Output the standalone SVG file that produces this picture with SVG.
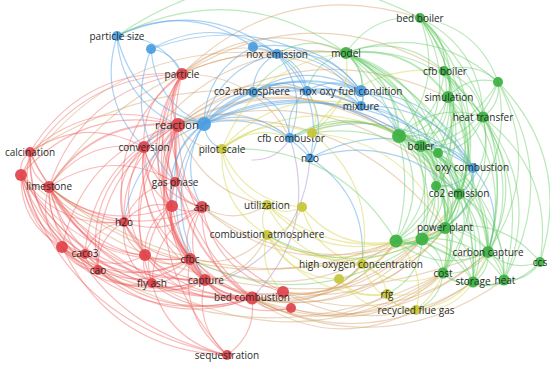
<svg xmlns="http://www.w3.org/2000/svg" width="550" height="366" viewBox="0 0 550 366">
<style>
.cx path{fill:none;stroke-width:1.2;vector-effect:non-scaling-stroke;stroke-linecap:round}
.er path{stroke:#ef5a5a;stroke-opacity:.42}
.eg path{stroke:#5cc95c;stroke-opacity:.42}
.eb path{stroke:#5aa5e6;stroke-opacity:.5}
.ey path{stroke:#d2d24a;stroke-opacity:.45}
.eo path{stroke:#cf955a;stroke-opacity:.4}
.ep path{stroke:#a68ac8;stroke-opacity:.45}
.cx path.t{stroke-width:2}
.n circle{fill-opacity:.93}
.r circle{fill:#e0444a}
.g circle{fill:#3cb043}
.b circle{fill:#4a9de0}
.y circle{fill:#c6c63a}
.n text{font-family:"Open Sans","DejaVu Sans",sans-serif;font-size:10px;fill:#2b2b2b;text-anchor:middle}
</style>
<g id="connectors" class="cx">
<g class="er">
<path class="t" d="M0 0Q.5-.3 1 0" transform="matrix(4 -51 51 4 178 125)"/>
<path d="M0 0Q.5-.3 1 0" transform="matrix(148 -27 27 148 30 152)"/>
<path d="M0 0Q.5-.3 1 0" transform="matrix(34 -22 22 34 144 147)"/>
<path d="M0 0Q.5-.3 1 0" transform="matrix(157 -50 50 157 21 175)"/>
<path class="t" d="M0 0Q.5-.3 1 0" transform="matrix(129 -62 62 129 49 187)"/>
<path d="M0 0Q.5-.3 1 0" transform="matrix(3 -57 57 3 175 182)"/>
<path d="M0 0Q.5-.3 1 0" transform="matrix(6 -81 81 6 172 206)"/>
<path d="M0 0Q.5-.3 1 0" transform="matrix(-24 -82 82 -24 202 207)"/>
<path d="M0 0Q.5-.3 1 0" transform="matrix(54 -97 97 54 124 222)"/>
<path d="M0 0Q.5-.3 1 0" transform="matrix(116 -122 122 116 62 247)"/>
<path d="M0 0Q.5-.3 1 0" transform="matrix(93 -129 129 93 85 254)"/>
<path d="M0 0Q.5-.3 1 0" transform="matrix(80 -145 145 80 98 270)"/>
<path d="M0 0Q.5-.3 1 0" transform="matrix(33 -130 130 33 145 255)"/>
<path class="t" d="M0 0Q.5-.3 1 0" transform="matrix(-12 -134 134 -12 190 259)"/>
<path d="M0 0Q.5-.3 1 0" transform="matrix(26 -158 158 26 152 283)"/>
<path d="M0 0Q.5-.3 1 0" transform="matrix(-27 -155 155 -27 205 280)"/>
<path class="t" d="M0 0Q.5-.3 1 0" transform="matrix(-74 -173 173 -74 252 298)"/>
<path d="M0 0Q.5-.3 1 0" transform="matrix(-105 -167 167 -105 283 292)"/>
<path d="M0 0Q.5-.3 1 0" transform="matrix(-49 -230 230 -49 227 355)"/>
<path d="M0 0Q.5-.3 1 0" transform="matrix(152 -78 78 152 30 152)"/>
<path d="M0 0Q.5-.3 1 0" transform="matrix(133 -113 113 133 49 187)"/>
<path d="M0 0Q.5-.3 1 0" transform="matrix(161 -101 101 161 21 175)"/>
<path d="M0 0Q.5-.3 1 0" transform="matrix(38 -73 73 38 144 147)"/>
<path d="M0 0Q.5-.3 1 0" transform="matrix(-20 -133 133 -20 202 207)"/>
<path d="M0 0Q.5-.3 1 0" transform="matrix(-8 -185 185 -8 190 259)"/>
<path d="M0 0Q.5-.3 1 0" transform="matrix(-23 -206 206 -23 205 280)"/>
<path d="M0 0Q.5-.3 1 0" transform="matrix(-70 -224 224 -70 252 298)"/>
<path d="M0 0Q.5-.3 1 0" transform="matrix(10 -132 132 10 172 206)"/>
<path d="M0 0Q.5-.3 1 0" transform="matrix(58 -148 148 58 124 222)"/>
<path d="M0 0Q.5-.3 1 0" transform="matrix(7 -108 108 7 175 182)"/>
<path d="M0 0Q.5-.3 1 0" transform="matrix(-19 -35 35 -19 49 187)"/>
<path d="M0 0Q.5-.3 1 0" transform="matrix(-28 -12 12 -28 49 187)"/>
<path d="M0 0Q.5-.3 1 0" transform="matrix(95 -40 40 95 49 187)"/>
<path d="M0 0Q.5-.3 1 0" transform="matrix(-75 -35 35 -75 124 222)"/>
<path d="M0 0Q.5-.3 1 0" transform="matrix(-36 -67 67 -36 85 254)"/>
<path d="M0 0Q.5-.3 1 0" transform="matrix(-49 -83 83 -49 98 270)"/>
<path d="M0 0Q.5-.3 1 0" transform="matrix(-13 -60 60 -13 62 247)"/>
<path d="M0 0Q.5-.3 1 0" transform="matrix(-141 -72 72 -141 190 259)"/>
<path d="M0 0Q.5-.3 1 0" transform="matrix(-156 -93 93 -156 205 280)"/>
<path class="t" d="M0 0Q.5-.3 1 0" transform="matrix(-203 -111 111 -203 252 298)"/>
<path d="M0 0Q.5-.3 1 0" transform="matrix(-96 -68 68 -96 145 255)"/>
<path d="M0 0Q.5-.3 1 0" transform="matrix(-103 -96 96 -103 152 283)"/>
<path d="M0 0Q.5-.3 1 0" transform="matrix(-153 -20 20 -153 202 207)"/>
<path d="M0 0Q.5-.3 1 0" transform="matrix(-123 -19 19 -123 172 206)"/>
<path d="M0 0Q.5-.3 1 0" transform="matrix(-178 -168 168 -178 227 355)"/>
<path d="M0 0Q.5-.3 1 0" transform="matrix(126 -5 5 126 49 187)"/>
<path d="M0 0Q.5-.3 1 0" transform="matrix(9 -23 23 9 21 175)"/>
<path d="M0 0Q.5-.3 1 0" transform="matrix(-55 -102 102 -55 85 254)"/>
<path d="M0 0Q.5-.3 1 0" transform="matrix(-32 -95 95 -32 62 247)"/>
<path d="M0 0Q.5-.3 1 0" transform="matrix(-68 -118 118 -68 98 270)"/>
<path d="M0 0Q.5-.3 1 0" transform="matrix(114 -5 5 114 30 152)"/>
<path d="M0 0Q.5-.3 1 0" transform="matrix(-94 -70 70 -94 124 222)"/>
<path d="M0 0Q.5-.3 1 0" transform="matrix(-222 -146 146 -222 252 298)"/>
<path d="M0 0Q.5-.3 1 0" transform="matrix(-41 -72 72 -41 62 247)"/>
<path d="M0 0Q.5-.3 1 0" transform="matrix(-64 -79 79 -64 85 254)"/>
<path d="M0 0Q.5-.3 1 0" transform="matrix(-77 -95 95 -77 98 270)"/>
<path d="M0 0Q.5-.3 1 0" transform="matrix(-184 -105 105 -184 205 280)"/>
<path d="M0 0Q.5-.3 1 0" transform="matrix(-231 -123 123 -231 252 298)"/>
<path d="M0 0Q.5-.3 1 0" transform="matrix(-169 -84 84 -169 190 259)"/>
<path d="M0 0Q.5-.3 1 0" transform="matrix(-103 -47 47 -103 124 222)"/>
<path d="M0 0Q.5-.3 1 0" transform="matrix(-131 -108 108 -131 152 283)"/>
<path d="M0 0Q.5-.3 1 0" transform="matrix(-206 -180 180 -206 227 355)"/>
<path d="M0 0Q.5-.3 1 0" transform="matrix(20 -75 75 20 124 222)"/>
<path d="M0 0Q.5-.3 1 0" transform="matrix(-58 -60 60 -58 202 207)"/>
<path d="M0 0Q.5-.3 1 0" transform="matrix(-28 -59 59 -28 172 206)"/>
<path d="M0 0Q.5-.3 1 0" transform="matrix(-46 -112 112 -46 190 259)"/>
<path d="M0 0Q.5-.3 1 0" transform="matrix(-61 -133 133 -61 205 280)"/>
<path d="M0 0Q.5-.3 1 0" transform="matrix(-108 -151 151 -108 252 298)"/>
<path d="M0 0Q.5-.3 1 0" transform="matrix(-1 -108 108 -1 145 255)"/>
<path d="M0 0Q.5-.3 1 0" transform="matrix(46 -123 123 46 98 270)"/>
<path d="M0 0Q.5-.3 1 0" transform="matrix(-31 -35 35 -31 175 182)"/>
<path d="M0 0Q.5-.3 1 0" transform="matrix(-27 -25 25 -27 202 207)"/>
<path d="M0 0Q.5-.3 1 0" transform="matrix(3 -24 24 3 172 206)"/>
<path d="M0 0Q.5-.3 1 0" transform="matrix(51 -40 40 51 124 222)"/>
<path d="M0 0Q.5-.3 1 0" transform="matrix(-15 -77 77 -15 190 259)"/>
<path d="M0 0Q.5-.3 1 0" transform="matrix(-30 -98 98 -30 205 280)"/>
<path d="M0 0Q.5-.3 1 0" transform="matrix(-30 -1 1 -30 202 207)"/>
<path d="M0 0Q.5-.3 1 0" transform="matrix(48 -16 16 48 124 222)"/>
<path d="M0 0Q.5-.3 1 0" transform="matrix(-18 -53 53 -18 190 259)"/>
<path d="M0 0Q.5-.3 1 0" transform="matrix(27 -49 49 27 145 255)"/>
<path d="M0 0Q.5-.3 1 0" transform="matrix(-33 -74 74 -33 205 280)"/>
<path d="M0 0Q.5-.3 1 0" transform="matrix(-80 -92 92 -80 252 298)"/>
<path d="M0 0Q.5-.3 1 0" transform="matrix(20 -77 77 20 152 283)"/>
<path d="M0 0Q.5-.3 1 0" transform="matrix(-78 15 -15 -78 202 207)"/>
<path d="M0 0Q.5-.3 1 0" transform="matrix(12 -52 52 12 190 259)"/>
<path d="M0 0Q.5-.3 1 0" transform="matrix(-3 -73 73 -3 205 280)"/>
<path d="M0 0Q.5-.3 1 0" transform="matrix(-50 -91 91 -50 252 298)"/>
<path d="M0 0Q.5-.3 1 0" transform="matrix(50 -76 76 50 152 283)"/>
<path d="M0 0Q.5-.3 1 0" transform="matrix(-81 -85 85 -81 283 292)"/>
<path d="M0 0Q.5-.3 1 0" transform="matrix(39 -32 32 39 85 254)"/>
<path d="M0 0Q.5-.3 1 0" transform="matrix(-21 -33 33 -21 145 255)"/>
<path d="M0 0Q.5-.3 1 0" transform="matrix(-66 -37 37 -66 190 259)"/>
<path d="M0 0Q.5-.3 1 0" transform="matrix(-81 -58 58 -81 205 280)"/>
<path d="M0 0Q.5-.3 1 0" transform="matrix(-128 -76 76 -128 252 298)"/>
<path d="M0 0Q.5-.3 1 0" transform="matrix(-28 -61 61 -28 152 283)"/>
<path d="M0 0Q.5-.3 1 0" transform="matrix(26 -48 48 26 98 270)"/>
<path d="M0 0Q.5-.3 1 0" transform="matrix(-23 -7 7 -23 85 254)"/>
<path d="M0 0Q.5-.3 1 0" transform="matrix(-36 -23 23 -36 98 270)"/>
<path d="M0 0Q.5-.3 1 0" transform="matrix(-190 -51 51 -190 252 298)"/>
<path d="M0 0Q.5-.3 1 0" transform="matrix(-143 -33 33 -143 205 280)"/>
<path d="M0 0Q.5-.3 1 0" transform="matrix(-90 -36 36 -90 152 283)"/>
<path d="M0 0Q.5-.3 1 0" transform="matrix(-128 -12 12 -128 190 259)"/>
<path d="M0 0Q.5-.3 1 0" transform="matrix(-165 -108 108 -165 227 355)"/>
<path d="M0 0Q.5-.3 1 0" transform="matrix(-13 -16 16 -13 98 270)"/>
<path d="M0 0Q.5-.3 1 0" transform="matrix(-105 -5 5 -105 190 259)"/>
<path d="M0 0Q.5-.3 1 0" transform="matrix(-120 -26 26 -120 205 280)"/>
<path d="M0 0Q.5-.3 1 0" transform="matrix(-167 -44 44 -167 252 298)"/>
<path d="M0 0Q.5-.3 1 0" transform="matrix(-60 -1 1 -60 145 255)"/>
<path d="M0 0Q.5-.3 1 0" transform="matrix(-54 -13 13 -54 152 283)"/>
<path d="M0 0Q.5-.3 1 0" transform="matrix(-154 -28 28 -154 252 298)"/>
<path d="M0 0Q.5-.3 1 0" transform="matrix(-107 -10 10 -107 205 280)"/>
<path d="M0 0Q.5-.3 1 0" transform="matrix(-92 11 -11 -92 190 259)"/>
<path d="M0 0Q.5-.3 1 0" transform="matrix(-45 -4 4 -45 190 259)"/>
<path d="M0 0Q.5-.3 1 0" transform="matrix(-60 -25 25 -60 205 280)"/>
<path d="M0 0Q.5-.3 1 0" transform="matrix(-107 -43 43 -107 252 298)"/>
<path d="M0 0Q.5-.3 1 0" transform="matrix(-7 -28 28 -7 152 283)"/>
<path class="t" d="M0 0Q.5-.3 1 0" transform="matrix(-15 -21 21 -15 205 280)"/>
<path class="t" d="M0 0Q.5-.3 1 0" transform="matrix(-62 -39 39 -62 252 298)"/>
<path d="M0 0Q.5-.3 1 0" transform="matrix(-93 -33 33 -93 283 292)"/>
<path d="M0 0Q.5-.3 1 0" transform="matrix(-37 -96 96 -37 227 355)"/>
<path d="M0 0Q.5-.3 1 0" transform="matrix(-38 24 -24 -38 190 259)"/>
<path class="t" d="M0 0Q.5-.3 1 0" transform="matrix(-47 -18 18 -47 252 298)"/>
<path d="M0 0Q.5-.3 1 0" transform="matrix(-22 -75 75 -22 227 355)"/>
<path d="M0 0Q.5-.3 1 0" transform="matrix(-78 -12 12 -78 283 292)"/>
<path d="M0 0Q.5-.3 1 0" transform="matrix(-86 -28 28 -86 291 308)"/>
<path d="M0 0Q.5-.3 1 0" transform="matrix(-53 3 -3 -53 205 280)"/>
<path d="M0 0Q.5-.3 1 0" transform="matrix(-31 6 -6 -31 283 292)"/>
<path d="M0 0Q.5-.3 1 0" transform="matrix(-39 -10 10 -39 291 308)"/>
<path d="M0 0Q.5-.3 1 0" transform="matrix(-25 57 -57 -25 252 298)"/>
<path d="M0 0Q.5-.3 1 0" transform="matrix(-75 -72 72 -75 227 355)"/>
<path d="M0 0Q.5-.3 1 0" transform="matrix(-100 -15 15 -100 252 298)"/>
</g>
<g class="eo">
<path d="M0 0Q.5-.3 1 0" transform="matrix(164 -21 21 164 182 74)"/>
<path d="M0 0Q.5-.3 1 0" transform="matrix(95 -20 20 95 182 74)"/>
<path d="M0 0Q.5-.3 1 0" transform="matrix(179 17 -17 179 182 74)"/>
<path d="M0 0Q.5-.3 1 0" transform="matrix(238 -56 56 238 182 74)"/>
<path d="M0 0Q.5-.3 1 0" transform="matrix(243 21 -21 243 178 125)"/>
<path d="M0 0Q.5-.3 1 0" transform="matrix(221 11 -11 221 178 125)"/>
<path d="M0 0Q.5-.3 1 0" transform="matrix(183 -19 19 183 178 125)"/>
<path d="M0 0Q.5-.3 1 0" transform="matrix(112 13 -13 112 178 125)"/>
<path d="M0 0Q.5-.3 1 0" transform="matrix(281 69 -69 281 178 125)"/>
<path d="M0 0Q.5-.3 1 0" transform="matrix(267 103 -103 267 178 125)"/>
<path d="M0 0Q.5-.3 1 0" transform="matrix(-193 70 -70 -193 445 228)"/>
<path d="M0 0Q.5-.3 1 0" transform="matrix(-144 57 -57 -144 396 241)"/>
<path d="M0 0Q.5-.3 1 0" transform="matrix(-170 59 -59 -170 422 239)"/>
<path d="M0 0Q.5-.3 1 0" transform="matrix(-236 46 -46 -236 488 252)"/>
<path d="M0 0Q.5-.3 1 0" transform="matrix(-221 16 -16 -221 473 282)"/>
<path d="M0 0Q.5-.3 1 0" transform="matrix(-191 25 -25 -191 443 273)"/>
<path d="M0 0Q.5-.3 1 0" transform="matrix(-252 18 -18 -252 504 280)"/>
<path d="M0 0Q.5-.3 1 0" transform="matrix(-207 104 -104 -207 459 194)"/>
<path d="M0 0Q.5-.3 1 0" transform="matrix(-162 64 -64 -162 445 228)"/>
<path d="M0 0Q.5-.3 1 0" transform="matrix(-113 51 -51 -113 396 241)"/>
<path d="M0 0Q.5-.3 1 0" transform="matrix(-205 40 -40 -205 488 252)"/>
<path d="M0 0Q.5-.3 1 0" transform="matrix(-190 10 -10 -190 473 282)"/>
<path d="M0 0Q.5-.3 1 0" transform="matrix(-79 28 -28 -79 362 264)"/>
<path d="M0 0Q.5-.3 1 0" transform="matrix(-152 35 -35 -152 443 273)"/>
<path d="M0 0Q.5-.3 1 0" transform="matrix(-206 18 -18 -206 396 241)"/>
<path d="M0 0Q.5-.3 1 0" transform="matrix(-194 -34 34 -194 396 241)"/>
<path d="M0 0Q.5-.3 1 0" transform="matrix(-243 -21 21 -243 445 228)"/>
<path d="M0 0Q.5-.3 1 0" transform="matrix(-217 41 -41 -217 422 239)"/>
<path d="M0 0Q.5-.3 1 0" transform="matrix(-396 -41 41 -396 445 228)"/>
<path d="M0 0Q.5-.3 1 0" transform="matrix(-347 -54 54 -347 396 241)"/>
<path d="M0 0Q.5-.3 1 0" transform="matrix(-467 -77 77 -467 488 252)"/>
<path d="M0 0Q.5-.3 1 0" transform="matrix(391 -6 6 391 30 152)"/>
<path d="M0 0Q.5-.3 1 0" transform="matrix(297 -134 134 297 49 187)"/>
<path d="M0 0Q.5-.3 1 0" transform="matrix(256 -121 121 256 21 175)"/>
<path d="M0 0Q.5-.3 1 0" transform="matrix(202 -94 94 202 144 147)"/>
<path d="M0 0Q.5-.3 1 0" transform="matrix(262 -3 3 262 182 74)"/>
<path d="M0 0Q.5-.3 1 0" transform="matrix(270 -28 28 270 178 125)"/>
<path d="M0 0Q.5-.3 1 0" transform="matrix(-381 -26 26 -381 443 273)"/>
<path d="M0 0Q.5-.3 1 0" transform="matrix(-291 10 -10 -291 443 273)"/>
<path d="M0 0Q.5-.3 1 0" transform="matrix(108 64 -64 108 182 74)"/>
<path d="M0 0Q.5-.3 1 0" transform="matrix(129 -34 34 129 178 125)"/>
<path d="M0 0Q.5-.3 1 0" transform="matrix(-89 -80 80 -89 267 205)"/>
<path d="M0 0Q.5-.3 1 0" transform="matrix(-62 45 -45 -62 267 235)"/>
<path d="M0 0Q.5-.3 1 0" transform="matrix(-44 -24 24 -44 222 149)"/>
<path d="M0 0Q.5-.3 1 0" transform="matrix(-65 2 -2 -65 267 205)"/>
<path d="M0 0Q.5-.3 1 0" transform="matrix(-77 24 -24 -77 267 235)"/>
<path d="M0 0Q.5-.3 1 0" transform="matrix(-110 34 -34 -110 362 264)"/>
<path d="M0 0Q.5-.3 1 0" transform="matrix(-135 4 -4 -135 387 294)"/>
<path d="M0 0Q.5-.3 1 0" transform="matrix(-164 -12 12 -164 416 310)"/>
</g>
<g class="ep">
<path d="M0 0Q.5-.3 1 0" transform="matrix(-38 160 -160 -38 290 138)"/>
<path d="M0 0Q.5-.3 1 0" transform="matrix(-85 121 -121 -85 310 158)"/>
<path d="M0 0Q.5-.3 1 0" transform="matrix(-38 22 -22 -38 290 138)"/>
</g>
<g class="eb">
<path d="M0 0Q.5-.3 1 0" transform="matrix(-87 -88 88 -87 204 124)"/>
<path d="M0 0Q.5-.3 1 0" transform="matrix(-61 -89 89 -61 178 125)"/>
<path d="M0 0Q.5-.3 1 0" transform="matrix(160 18 -18 160 117 36)"/>
<path d="M0 0Q.5-.3 1 0" transform="matrix(136 11 -11 136 117 36)"/>
<path d="M0 0Q.5-.3 1 0" transform="matrix(-27 -111 111 -27 144 147)"/>
<path d="M0 0Q.5-.3 1 0" transform="matrix(65 38 -38 65 117 36)"/>
<path d="M0 0Q.5-.3 1 0" transform="matrix(126 5 -5 126 151 49)"/>
<path d="M0 0Q.5-.3 1 0" transform="matrix(-53 -75 75 -53 204 124)"/>
<path d="M0 0Q.5-.3 1 0" transform="matrix(-24 -133 133 -24 175 182)"/>
<path d="M0 0Q.5-.3 1 0" transform="matrix(31 25 -25 31 151 49)"/>
<path d="M0 0Q.5-.3 1 0" transform="matrix(210 42 -42 210 151 49)"/>
<path d="M0 0Q.5-.3 1 0" transform="matrix(24 7 -7 24 253 47)"/>
<path d="M0 0Q.5-.3 1 0" transform="matrix(49 -77 77 49 204 124)"/>
<path d="M0 0Q.5-.3 1 0" transform="matrix(54 44 -44 54 253 47)"/>
<path d="M0 0Q.5-.3 1 0" transform="matrix(108 44 -44 108 253 47)"/>
<path d="M0 0Q.5-.3 1 0" transform="matrix(30 37 -37 30 277 54)"/>
<path d="M0 0Q.5-.3 1 0" transform="matrix(24 -38 38 24 253 92)"/>
<path d="M0 0Q.5-.3 1 0" transform="matrix(73 -70 70 73 204 124)"/>
<path d="M0 0Q.5-.3 1 0" transform="matrix(84 37 -37 84 277 54)"/>
<path d="M0 0Q.5-.3 1 0" transform="matrix(33 104 -104 33 277 54)"/>
<path d="M0 0Q.5-.3 1 0" transform="matrix(13 84 -84 13 277 54)"/>
<path d="M0 0Q.5-.3 1 0" transform="matrix(84 52 -52 84 277 54)"/>
<path d="M0 0Q.5-.3 1 0" transform="matrix(49 -32 32 49 204 124)"/>
<path d="M0 0Q.5-.3 1 0" transform="matrix(103 -33 33 103 204 124)"/>
<path class="t" d="M0 0Q.5-.3 1 0" transform="matrix(157 -33 33 157 204 124)"/>
<path class="t" d="M0 0Q.5-.3 1 0" transform="matrix(157 -18 18 157 204 124)"/>
<path d="M0 0Q.5-.3 1 0" transform="matrix(86 14 -14 86 204 124)"/>
<path d="M0 0Q.5-.3 1 0" transform="matrix(106 34 -34 106 204 124)"/>
<path d="M0 0Q.5-.3 1 0" transform="matrix(-18 -25 25 -18 222 149)"/>
<path d="M0 0Q.5-.3 1 0" transform="matrix(29 -58 58 29 175 182)"/>
<path d="M0 0Q.5-.3 1 0" transform="matrix(2 -83 83 2 202 207)"/>
<path d="M0 0Q.5-.3 1 0" transform="matrix(32 -82 82 32 172 206)"/>
<path d="M0 0Q.5-.3 1 0" transform="matrix(80 -98 98 80 124 222)"/>
<path d="M0 0Q.5-.3 1 0" transform="matrix(14 -135 135 14 190 259)"/>
<path d="M0 0Q.5-.3 1 0" transform="matrix(269 44 -44 269 204 124)"/>
<path d="M0 0Q.5-.3 1 0" transform="matrix(217 22 -22 217 204 124)"/>
<path d="M0 0Q.5-.3 1 0" transform="matrix(195 12 -12 195 204 124)"/>
<path d="M0 0Q.5-.3 1 0" transform="matrix(60 -23 23 60 144 147)"/>
<path d="M0 0Q.5-.3 1 0" transform="matrix(-1 -156 156 -1 205 280)"/>
<path d="M0 0Q.5-.3 1 0" transform="matrix(26 -1 1 26 178 125)"/>
<path d="M0 0Q.5-.3 1 0" transform="matrix(54 -1 1 54 253 92)"/>
<path d="M0 0Q.5-.3 1 0" transform="matrix(108 -1 1 108 253 92)"/>
<path d="M0 0Q.5-.3 1 0" transform="matrix(37 46 -46 37 253 92)"/>
<path d="M0 0Q.5-.3 1 0" transform="matrix(108 14 -14 108 253 92)"/>
<path d="M0 0Q.5-.3 1 0" transform="matrix(54 0 0 54 307 91)"/>
<path d="M0 0Q.5-.3 1 0" transform="matrix(54 15 -15 54 307 91)"/>
<path d="M0 0Q.5-.3 1 0" transform="matrix(3 67 -67 3 307 91)"/>
<path d="M0 0Q.5-.3 1 0" transform="matrix(17 -47 47 17 290 138)"/>
<path d="M0 0Q.5-.3 1 0" transform="matrix(166 77 -77 166 307 91)"/>
<path d="M0 0Q.5-.3 1 0" transform="matrix(112 62 -62 112 361 106)"/>
<path d="M0 0Q.5-.3 1 0" transform="matrix(38 30 -30 38 361 106)"/>
<path d="M0 0Q.5-.3 1 0" transform="matrix(60 40 -40 60 361 106)"/>
<path d="M0 0Q.5-.3 1 0" transform="matrix(98 88 -88 98 361 106)"/>
<path d="M0 0Q.5-.3 1 0" transform="matrix(112 77 -77 112 361 91)"/>
<path d="M0 0Q.5-.3 1 0" transform="matrix(0 15 -15 0 361 91)"/>
<path d="M0 0Q.5-.3 1 0" transform="matrix(38 45 -45 38 361 91)"/>
<path d="M0 0Q.5-.3 1 0" transform="matrix(20 20 -20 20 290 138)"/>
<path d="M0 0Q.5-.3 1 0" transform="matrix(183 30 -30 183 290 138)"/>
<path d="M0 0Q.5-.3 1 0" transform="matrix(163 10 -10 163 310 158)"/>
<path d="M0 0Q.5-.3 1 0" transform="matrix(149 36 -36 149 310 158)"/>
<path d="M0 0Q.5-.3 1 0" transform="matrix(52 106 -106 52 310 158)"/>
<path d="M0 0Q.5-.3 1 0" transform="matrix(-14 26 -26 -14 473 168)"/>
<path d="M0 0Q.5-.3 1 0" transform="matrix(-28 60 -60 -28 473 168)"/>
<path d="M0 0Q.5-.3 1 0" transform="matrix(52 22 -22 52 421 146)"/>
<path d="M0 0Q.5-.3 1 0" transform="matrix(-37 18 -18 -37 473 168)"/>
<path d="M0 0Q.5-.3 1 0" transform="matrix(15 84 -84 15 473 168)"/>
</g>
<g class="ey">
<path d="M0 0Q.5-.3 1 0" transform="matrix(90 -16 16 90 222 149)"/>
<path d="M0 0Q.5-.3 1 0" transform="matrix(-45 -56 56 -45 267 205)"/>
<path d="M0 0Q.5-.3 1 0" transform="matrix(-80 -58 58 -80 302 207)"/>
<path d="M0 0Q.5-.3 1 0" transform="matrix(-45 -86 86 -45 267 235)"/>
<path d="M0 0Q.5-.3 1 0" transform="matrix(139 -43 43 139 222 149)"/>
<path d="M0 0Q.5-.3 1 0" transform="matrix(68 -11 11 68 222 149)"/>
<path d="M0 0Q.5-.3 1 0" transform="matrix(177 -13 13 177 222 149)"/>
<path d="M0 0Q.5-.3 1 0" transform="matrix(124 -96 96 124 222 149)"/>
<path d="M0 0Q.5-.3 1 0" transform="matrix(50 131 -131 50 312 133)"/>
<path d="M0 0Q.5-.3 1 0" transform="matrix(109 13 -13 109 312 133)"/>
<path d="M0 0Q.5-.3 1 0" transform="matrix(87 3 -3 87 312 133)"/>
<path d="M0 0Q.5-.3 1 0" transform="matrix(5 42 -42 5 307 91)"/>
<path d="M0 0Q.5-.3 1 0" transform="matrix(133 95 -95 133 312 133)"/>
<path d="M0 0Q.5-.3 1 0" transform="matrix(-34 80 -80 -34 346 53)"/>
<path d="M0 0Q.5-.3 1 0" transform="matrix(132 -62 62 132 312 133)"/>
<path d="M0 0Q.5-.3 1 0" transform="matrix(0 -30 30 0 267 235)"/>
<path d="M0 0Q.5-.3 1 0" transform="matrix(-35 -2 2 -35 302 207)"/>
<path d="M0 0Q.5-.3 1 0" transform="matrix(-95 -59 59 -95 362 264)"/>
<path d="M0 0Q.5-.3 1 0" transform="matrix(-129 -36 36 -129 396 241)"/>
<path d="M0 0Q.5-.3 1 0" transform="matrix(-178 -23 23 -178 445 228)"/>
<path d="M0 0Q.5-.3 1 0" transform="matrix(-35 28 -28 -35 302 207)"/>
<path d="M0 0Q.5-.3 1 0" transform="matrix(-94 -34 34 -94 396 241)"/>
<path d="M0 0Q.5-.3 1 0" transform="matrix(-60 -57 57 -60 362 264)"/>
<path d="M0 0Q.5-.3 1 0" transform="matrix(-95 -29 29 -95 362 264)"/>
<path d="M0 0Q.5-.3 1 0" transform="matrix(-72 -44 44 -72 339 279)"/>
<path d="M0 0Q.5-.3 1 0" transform="matrix(-120 -59 59 -120 387 294)"/>
<path d="M0 0Q.5-.3 1 0" transform="matrix(-129 -6 6 -129 396 241)"/>
<path d="M0 0Q.5-.3 1 0" transform="matrix(-155 -4 4 -155 422 239)"/>
<path d="M0 0Q.5-.3 1 0" transform="matrix(-16 -57 57 -16 283 292)"/>
<path d="M0 0Q.5-.3 1 0" transform="matrix(25 30 -30 25 362 264)"/>
<path d="M0 0Q.5-.3 1 0" transform="matrix(-54 -46 46 -54 416 310)"/>
<path d="M0 0Q.5-.3 1 0" transform="matrix(-23 15 -15 -23 362 264)"/>
<path d="M0 0Q.5-.3 1 0" transform="matrix(-34 23 -23 -34 396 241)"/>
<path d="M0 0Q.5-.3 1 0" transform="matrix(-83 36 -36 -83 445 228)"/>
<path d="M0 0Q.5-.3 1 0" transform="matrix(-81 -9 9 -81 443 273)"/>
<path d="M0 0Q.5-.3 1 0" transform="matrix(-48 -15 15 -48 387 294)"/>
<path d="M0 0Q.5-.3 1 0" transform="matrix(-77 -31 31 -77 416 310)"/>
<path d="M0 0Q.5-.3 1 0" transform="matrix(-29 -16 16 -29 416 310)"/>
<path d="M0 0Q.5-.3 1 0" transform="matrix(-56 21 -21 -56 443 273)"/>
<path d="M0 0Q.5-.3 1 0" transform="matrix(-29 82 -82 -29 445 228)"/>
<path d="M0 0Q.5-.3 1 0" transform="matrix(-72 58 -58 -72 488 252)"/>
<path d="M0 0Q.5-.3 1 0" transform="matrix(-57 28 -28 -57 473 282)"/>
<path d="M0 0Q.5-.3 1 0" transform="matrix(20 69 -69 20 396 241)"/>
</g>
<g class="eg">
<path d="M0 0Q.5-.3 1 0" transform="matrix(74 -35 35 74 346 53)"/>
<path d="M0 0Q.5-.3 1 0" transform="matrix(24 53 -53 24 420 18)"/>
<path d="M0 0Q.5-.3 1 0" transform="matrix(28 79 -79 28 420 18)"/>
<path d="M0 0Q.5-.3 1 0" transform="matrix(78 64 -64 78 420 18)"/>
<path d="M0 0Q.5-.3 1 0" transform="matrix(63 99 -99 63 420 18)"/>
<path d="M0 0Q.5-.3 1 0" transform="matrix(-21 118 -118 -21 420 18)"/>
<path d="M0 0Q.5-.3 1 0" transform="matrix(1 128 -128 1 420 18)"/>
<path d="M0 0Q.5-.3 1 0" transform="matrix(18 135 -135 18 420 18)"/>
<path d="M0 0Q.5-.3 1 0" transform="matrix(16 168 -168 16 420 18)"/>
<path d="M0 0Q.5-.3 1 0" transform="matrix(39 176 -176 39 420 18)"/>
<path d="M0 0Q.5-.3 1 0" transform="matrix(25 210 -210 25 420 18)"/>
<path d="M0 0Q.5-.3 1 0" transform="matrix(68 234 -234 68 420 18)"/>
<path d="M0 0Q.5-.3 1 0" transform="matrix(98 18 -18 98 346 53)"/>
<path d="M0 0Q.5-.3 1 0" transform="matrix(152 29 -29 152 346 53)"/>
<path class="t" d="M0 0Q.5-.3 1 0" transform="matrix(102 44 -44 102 346 53)"/>
<path d="M0 0Q.5-.3 1 0" transform="matrix(137 64 -64 137 346 53)"/>
<path class="t" d="M0 0Q.5-.3 1 0" transform="matrix(53 83 -83 53 346 53)"/>
<path d="M0 0Q.5-.3 1 0" transform="matrix(75 93 -93 75 346 53)"/>
<path d="M0 0Q.5-.3 1 0" transform="matrix(92 100 -100 92 346 53)"/>
<path d="M0 0Q.5-.3 1 0" transform="matrix(90 133 -133 90 346 53)"/>
<path d="M0 0Q.5-.3 1 0" transform="matrix(113 141 -141 113 346 53)"/>
<path d="M0 0Q.5-.3 1 0" transform="matrix(99 175 -175 99 346 53)"/>
<path d="M0 0Q.5-.3 1 0" transform="matrix(50 188 -188 50 346 53)"/>
<path d="M0 0Q.5-.3 1 0" transform="matrix(76 186 -186 76 346 53)"/>
<path d="M0 0Q.5-.3 1 0" transform="matrix(69 -1 1 69 277 54)"/>
<path d="M0 0Q.5-.3 1 0" transform="matrix(39 -38 38 39 307 91)"/>
<path d="M0 0Q.5-.3 1 0" transform="matrix(15 38 -38 15 346 53)"/>
<path d="M0 0Q.5-.3 1 0" transform="matrix(15 53 -53 15 346 53)"/>
<path d="M0 0Q.5-.3 1 0" transform="matrix(93 -39 39 93 253 92)"/>
<path d="M0 0Q.5-.3 1 0" transform="matrix(142 199 -199 142 346 53)"/>
<path d="M0 0Q.5-.3 1 0" transform="matrix(127 229 -229 127 346 53)"/>
<path d="M0 0Q.5-.3 1 0" transform="matrix(229 17 -17 229 117 36)"/>
<path d="M0 0Q.5-.3 1 0" transform="matrix(303 -18 18 303 117 36)"/>
<path d="M0 0Q.5-.3 1 0" transform="matrix(4 26 -26 4 444 71)"/>
<path d="M0 0Q.5-.3 1 0" transform="matrix(54 11 -11 54 444 71)"/>
<path d="M0 0Q.5-.3 1 0" transform="matrix(39 46 -46 39 444 71)"/>
<path d="M0 0Q.5-.3 1 0" transform="matrix(-23 75 -75 -23 444 71)"/>
<path d="M0 0Q.5-.3 1 0" transform="matrix(-45 65 -65 -45 444 71)"/>
<path d="M0 0Q.5-.3 1 0" transform="matrix(-6 82 -82 -6 444 71)"/>
<path d="M0 0Q.5-.3 1 0" transform="matrix(15 123 -123 15 444 71)"/>
<path d="M0 0Q.5-.3 1 0" transform="matrix(1 157 -157 1 444 71)"/>
<path d="M0 0Q.5-.3 1 0" transform="matrix(44 181 -181 44 444 71)"/>
<path d="M0 0Q.5-.3 1 0" transform="matrix(35 20 -20 35 448 97)"/>
<path d="M0 0Q.5-.3 1 0" transform="matrix(50 -15 15 50 448 97)"/>
<path d="M0 0Q.5-.3 1 0" transform="matrix(-49 39 -39 -49 448 97)"/>
<path d="M0 0Q.5-.3 1 0" transform="matrix(-27 49 -49 -27 448 97)"/>
<path d="M0 0Q.5-.3 1 0" transform="matrix(-10 56 -56 -10 448 97)"/>
<path d="M0 0Q.5-.3 1 0" transform="matrix(-12 89 -89 -12 448 97)"/>
<path d="M0 0Q.5-.3 1 0" transform="matrix(11 97 -97 11 448 97)"/>
<path d="M0 0Q.5-.3 1 0" transform="matrix(-3 131 -131 -3 448 97)"/>
<path d="M0 0Q.5-.3 1 0" transform="matrix(40 155 -155 40 448 97)"/>
<path d="M0 0Q.5-.3 1 0" transform="matrix(-52 144 -144 -52 448 97)"/>
<path d="M0 0Q.5-.3 1 0" transform="matrix(-5 176 -176 -5 448 97)"/>
<path d="M0 0Q.5-.3 1 0" transform="matrix(-15 35 -35 -15 498 82)"/>
<path d="M0 0Q.5-.3 1 0" transform="matrix(-62 29 -29 -62 483 117)"/>
<path d="M0 0Q.5-.3 1 0" transform="matrix(-45 36 -36 -45 483 117)"/>
<path d="M0 0Q.5-.3 1 0" transform="matrix(84 -19 19 84 399 136)"/>
<path d="M0 0Q.5-.3 1 0" transform="matrix(-38 111 -111 -38 483 117)"/>
<path d="M0 0Q.5-.3 1 0" transform="matrix(5 135 -135 5 483 117)"/>
<path d="M0 0Q.5-.3 1 0" transform="matrix(21 163 -163 21 483 117)"/>
<path d="M0 0Q.5-.3 1 0" transform="matrix(-24 77 -77 -24 483 117)"/>
<path d="M0 0Q.5-.3 1 0" transform="matrix(-10 165 -165 -10 483 117)"/>
<path d="M0 0Q.5-.3 1 0" transform="matrix(-77 64 -64 -77 498 82)"/>
<path d="M0 0Q.5-.3 1 0" transform="matrix(-10 170 -170 -10 498 82)"/>
<path d="M0 0Q.5-.3 1 0" transform="matrix(6 198 -198 6 498 82)"/>
<path d="M0 0Q.5-.3 1 0" transform="matrix(-99 54 -54 -99 498 82)"/>
<path d="M0 0Q.5-.3 1 0" transform="matrix(-53 146 -146 -53 498 82)"/>
<path class="t" d="M0 0Q.5-.3 1 0" transform="matrix(22 10 -10 22 399 136)"/>
<path d="M0 0Q.5-.3 1 0" transform="matrix(39 17 -17 39 399 136)"/>
<path d="M0 0Q.5-.3 1 0" transform="matrix(37 50 -50 37 399 136)"/>
<path d="M0 0Q.5-.3 1 0" transform="matrix(60 58 -58 60 399 136)"/>
<path class="t" d="M0 0Q.5-.3 1 0" transform="matrix(46 92 -92 46 399 136)"/>
<path d="M0 0Q.5-.3 1 0" transform="matrix(-3 105 -105 -3 399 136)"/>
<path d="M0 0Q.5-.3 1 0" transform="matrix(23 103 -103 23 399 136)"/>
<path d="M0 0Q.5-.3 1 0" transform="matrix(44 137 -137 44 399 136)"/>
<path d="M0 0Q.5-.3 1 0" transform="matrix(74 146 -146 74 399 136)"/>
<path d="M0 0Q.5-.3 1 0" transform="matrix(89 116 -116 89 399 136)"/>
<path d="M0 0Q.5-.3 1 0" transform="matrix(17 7 -7 17 421 146)"/>
<path d="M0 0Q.5-.3 1 0" transform="matrix(15 40 -40 15 421 146)"/>
<path d="M0 0Q.5-.3 1 0" transform="matrix(38 48 -48 38 421 146)"/>
<path class="t" d="M0 0Q.5-.3 1 0" transform="matrix(24 82 -82 24 421 146)"/>
<path d="M0 0Q.5-.3 1 0" transform="matrix(-25 95 -95 -25 421 146)"/>
<path d="M0 0Q.5-.3 1 0" transform="matrix(1 93 -93 1 421 146)"/>
<path d="M0 0Q.5-.3 1 0" transform="matrix(22 127 -127 22 421 146)"/>
<path d="M0 0Q.5-.3 1 0" transform="matrix(67 106 -106 67 421 146)"/>
<path d="M0 0Q.5-.3 1 0" transform="matrix(52 136 -136 52 421 146)"/>
<path d="M0 0Q.5-.3 1 0" transform="matrix(83 134 -134 83 421 146)"/>
<path d="M0 0Q.5-.3 1 0" transform="matrix(21 41 -41 21 438 153)"/>
<path d="M0 0Q.5-.3 1 0" transform="matrix(7 75 -75 7 438 153)"/>
<path d="M0 0Q.5-.3 1 0" transform="matrix(-16 86 -86 -16 438 153)"/>
<path d="M0 0Q.5-.3 1 0" transform="matrix(50 99 -99 50 438 153)"/>
<path d="M0 0Q.5-.3 1 0" transform="matrix(23 8 -8 23 436 186)"/>
<path d="M0 0Q.5-.3 1 0" transform="matrix(9 42 -42 9 436 186)"/>
<path d="M0 0Q.5-.3 1 0" transform="matrix(-40 55 -55 -40 436 186)"/>
<path d="M0 0Q.5-.3 1 0" transform="matrix(-14 53 -53 -14 436 186)"/>
<path d="M0 0Q.5-.3 1 0" transform="matrix(7 87 -87 7 436 186)"/>
<path d="M0 0Q.5-.3 1 0" transform="matrix(-14 34 -34 -14 459 194)"/>
<path d="M0 0Q.5-.3 1 0" transform="matrix(29 58 -58 29 459 194)"/>
<path d="M0 0Q.5-.3 1 0" transform="matrix(-37 45 -45 -37 459 194)"/>
<path d="M0 0Q.5-.3 1 0" transform="matrix(14 88 -88 14 459 194)"/>
<path d="M0 0Q.5-.3 1 0" transform="matrix(-16 79 -79 -16 459 194)"/>
<path d="M0 0Q.5-.3 1 0" transform="matrix(45 86 -86 45 459 194)"/>
<path d="M0 0Q.5-.3 1 0" transform="matrix(-63 47 -47 -63 459 194)"/>
<path class="t" d="M0 0Q.5-.3 1 0" transform="matrix(-49 13 -13 -49 445 228)"/>
<path class="t" d="M0 0Q.5-.3 1 0" transform="matrix(-23 11 -11 -23 445 228)"/>
<path d="M0 0Q.5-.3 1 0" transform="matrix(43 24 -24 43 445 228)"/>
<path d="M0 0Q.5-.3 1 0" transform="matrix(-2 45 -45 -2 445 228)"/>
<path d="M0 0Q.5-.3 1 0" transform="matrix(28 54 -54 28 445 228)"/>
<path d="M0 0Q.5-.3 1 0" transform="matrix(59 52 -52 59 445 228)"/>
<path d="M0 0Q.5-.3 1 0" transform="matrix(95 34 -34 95 445 228)"/>
<path class="t" d="M0 0Q.5-.3 1 0" transform="matrix(-26 2 -2 -26 422 239)"/>
<path d="M0 0Q.5-.3 1 0" transform="matrix(47 32 -32 47 396 241)"/>
<path d="M0 0Q.5-.3 1 0" transform="matrix(77 41 -41 77 396 241)"/>
<path d="M0 0Q.5-.3 1 0" transform="matrix(-92 -11 11 -92 488 252)"/>
<path d="M0 0Q.5-.3 1 0" transform="matrix(21 34 -34 21 422 239)"/>
<path d="M0 0Q.5-.3 1 0" transform="matrix(51 43 -43 51 422 239)"/>
<path d="M0 0Q.5-.3 1 0" transform="matrix(-66 -13 13 -66 488 252)"/>
<path d="M0 0Q.5-.3 1 0" transform="matrix(82 41 -41 82 422 239)"/>
<path d="M0 0Q.5-.3 1 0" transform="matrix(-52 -10 10 -52 540 262)"/>
<path d="M0 0Q.5-.3 1 0" transform="matrix(-45 21 -21 -45 488 252)"/>
<path d="M0 0Q.5-.3 1 0" transform="matrix(-15 30 -30 -15 488 252)"/>
<path d="M0 0Q.5-.3 1 0" transform="matrix(16 28 -28 16 488 252)"/>
<path d="M0 0Q.5-.3 1 0" transform="matrix(-30 -9 9 -30 473 282)"/>
<path d="M0 0Q.5-.3 1 0" transform="matrix(-61 -7 7 -61 504 280)"/>
<path d="M0 0Q.5-.3 1 0" transform="matrix(-31 2 -2 -31 504 280)"/>
<path d="M0 0Q.5-.3 1 0" transform="matrix(-67 20 -20 -67 540 262)"/>
<path d="M0 0Q.5-.3 1 0" transform="matrix(-36 18 -18 -36 540 262)"/>
<path d="M0 0Q.5-.3 1 0" transform="matrix(109 -2 2 109 290 138)"/>
<path d="M0 0Q.5-.3 1 0" transform="matrix(131 8 -8 131 290 138)"/>
<path d="M0 0Q.5-.3 1 0" transform="matrix(-35 55 -55 -35 422 239)"/>
<path d="M0 0Q.5-.3 1 0" transform="matrix(-27 37 -37 -27 443 273)"/>
<path d="M0 0Q.5-.3 1 0" transform="matrix(-178 7 -7 -178 445 228)"/>
<path d="M0 0Q.5-.3 1 0" transform="matrix(174 92 -92 174 222 149)"/>
<path d="M0 0Q.5-.3 1 0" transform="matrix(-232 20 -20 -232 422 239)"/>
<path d="M0 0Q.5-.3 1 0" transform="matrix(147 61 -61 147 312 133)"/>
<path d="M0 0Q.5-.3 1 0" transform="matrix(42 180 -180 42 498 82)"/>
<path d="M0 0Q.5-.3 1 0" transform="matrix(57 145 -145 57 483 117)"/>
<path d="M0 0Q.5-.3 1 0" transform="matrix(60 209 -209 60 444 71)"/>
</g>
</g>
<g id="nodes">
<g id="n-particle" class="n r"><circle cx="182" cy="74" r="6"/><text x="182" y="77.5">particle</text></g>
<g id="n-calcination" class="n r"><circle cx="30" cy="152" r="5"/><text x="30" y="155.5">calcination</text></g>
<g id="n-conversion" class="n r"><circle cx="144" cy="147" r="6"/><text x="144" y="150.5">conversion</text></g>
<g id="n-red-1" class="n r"><circle cx="21" cy="175" r="6"/></g>
<g id="n-limestone" class="n r"><circle cx="49" cy="187" r="6"/><text x="49" y="190">limestone</text></g>
<g id="n-gas-phase" class="n r"><circle cx="175" cy="182" r="5"/><text x="175" y="185.5">gas phase</text></g>
<g id="n-red-2" class="n r"><circle cx="172" cy="206" r="6"/></g>
<g id="n-ash" class="n r"><circle cx="202" cy="207" r="6"/><text x="202" y="210.5">ash</text></g>
<g id="n-h2o" class="n r"><circle cx="124" cy="222" r="5"/><text x="124" y="225.5">h2o</text></g>
<g id="n-red-3" class="n r"><circle cx="62" cy="247" r="6"/></g>
<g id="n-caco3" class="n r"><circle cx="85" cy="254" r="5"/><text x="85" y="257">caco3</text></g>
<g id="n-cao" class="n r"><circle cx="98" cy="270" r="5"/><text x="98" y="273.5">cao</text></g>
<g id="n-red-4" class="n r"><circle cx="145" cy="255" r="6"/></g>
<g id="n-cfbc" class="n r"><circle cx="190" cy="259" r="6"/><text x="190" y="262.5">cfbc</text></g>
<g id="n-fly-ash" class="n r"><circle cx="152" cy="283" r="5"/><text x="152" y="286.5">fly ash</text></g>
<g id="n-capture" class="n r"><circle cx="205" cy="280" r="6"/><text x="206" y="283.5">capture</text></g>
<g id="n-red-5" class="n r"><circle cx="283" cy="292" r="6"/></g>
<g id="n-red-6" class="n r"><circle cx="291" cy="308" r="5"/></g>
<g id="n-bed-combustion" class="n r"><circle cx="252" cy="298" r="6.5"/><text x="252" y="301">bed combustion</text></g>
<g id="n-sequestration" class="n r"><circle cx="227" cy="355" r="5"/><text x="227" y="358.5">sequestration</text></g>
<g id="n-particle-size" class="n b"><circle cx="117" cy="36" r="5"/><text x="117" y="39.5">particle size</text></g>
<g id="n-blue-1" class="n b"><circle cx="151" cy="49" r="5"/></g>
<g id="n-blue-2" class="n b"><circle cx="253" cy="47" r="5"/></g>
<g id="n-nox-emission" class="n b"><circle cx="277" cy="54" r="5"/><text x="277" y="57.5">nox emission</text></g>
<g id="n-co2-atmosphere" class="n b"><circle cx="253" cy="92" r="5"/><text x="252" y="95">co2 atmosphere</text></g>
<g id="n-nox" class="n b"><circle cx="307" cy="91" r="5"/><text x="308" y="94.5">nox</text></g>
<g id="n-oxy-fuel-condition" class="n b"><circle cx="361" cy="91" r="6"/><text x="361" y="94.5">oxy fuel condition</text></g>
<g id="n-mixture" class="n b"><circle cx="361" cy="106" r="5"/><text x="361" y="109.5">mixture</text></g>
<g id="n-cfb-combustor" class="n b"><circle cx="290" cy="138" r="5"/><text x="291" y="141.5">cfb combustor</text></g>
<g id="n-n2o" class="n b"><circle cx="310" cy="158" r="4.5"/><text x="310" y="161.5">n2o</text></g>
<g id="n-oxy-combustion" class="n b"><circle cx="473" cy="168" r="5"/><text x="472" y="171">oxy combustion</text></g>
<g id="n-pilot-scale" class="n y"><circle cx="222" cy="149" r="5"/><text x="222" y="152.5">pilot scale</text></g>
<g id="n-yellow-1" class="n y"><circle cx="312" cy="133" r="5"/></g>
<g id="n-utilization" class="n y"><circle cx="267" cy="205" r="5"/><text x="267" y="208.5">utilization</text></g>
<g id="n-yellow-2" class="n y"><circle cx="302" cy="207" r="5"/></g>
<g id="n-combustion-atmosphere" class="n y"><circle cx="267" cy="235" r="5"/><text x="267" y="238">combustion atmosphere</text></g>
<g id="n-high-oxygen-concentration" class="n y"><circle cx="362" cy="264" r="5"/><text x="361" y="267.5">high oxygen concentration</text></g>
<g id="n-yellow-3" class="n y"><circle cx="339" cy="279" r="5"/></g>
<g id="n-rfg" class="n y"><circle cx="387" cy="294" r="5"/><text x="387" y="297.5">rfg</text></g>
<g id="n-recycled-flue-gas" class="n y"><circle cx="416" cy="310" r="5"/><text x="416" y="313.5">recycled flue gas</text></g>
<g id="n-bed-boiler" class="n g"><circle cx="420" cy="18" r="5"/><text x="420" y="21.5">bed boiler</text></g>
<g id="n-model" class="n g"><circle cx="346" cy="53" r="6"/><text x="346" y="56.5">model</text></g>
<g id="n-cfb-boiler" class="n g"><circle cx="444" cy="71" r="5"/><text x="445" y="74.5">cfb boiler</text></g>
<g id="n-green-1" class="n g"><circle cx="498" cy="82" r="5"/></g>
<g id="n-simulation" class="n g"><circle cx="448" cy="97" r="6"/><text x="449" y="100.5">simulation</text></g>
<g id="n-heat-transfer" class="n g"><circle cx="483" cy="117" r="5.5"/><text x="483" y="120.5">heat transfer</text></g>
<g id="n-green-2" class="n g"><circle cx="399" cy="136" r="7"/></g>
<g id="n-boiler" class="n g"><circle cx="421" cy="146" r="6"/><text x="421" y="149.5">boiler</text></g>
<g id="n-green-3" class="n g"><circle cx="438" cy="153" r="5"/></g>
<g id="n-green-4" class="n g"><circle cx="436" cy="186" r="5"/></g>
<g id="n-co2-emission" class="n g"><circle cx="459" cy="194" r="5.5"/><text x="459" y="197">co2 emission</text></g>
<g id="n-power-plant" class="n g"><circle cx="445" cy="228" r="6"/><text x="445" y="231">power plant</text></g>
<g id="n-green-5" class="n g"><circle cx="396" cy="241" r="6.5"/></g>
<g id="n-green-6" class="n g"><circle cx="422" cy="239" r="6.5"/></g>
<g id="n-carbon-capture" class="n g"><circle cx="488" cy="252" r="6"/><text x="488" y="255.5">carbon capture</text></g>
<g id="n-ccs" class="n g"><circle cx="540" cy="262" r="5"/><text x="540" y="265.5">ccs</text></g>
<g id="n-cost" class="n g"><circle cx="443" cy="273" r="5.5"/><text x="443" y="276.5">cost</text></g>
<g id="n-storage" class="n g"><circle cx="473" cy="282" r="5.5"/><text x="473" y="285">storage</text></g>
<g id="n-heat" class="n g"><circle cx="504" cy="280" r="5.5"/><text x="505" y="283.5">heat</text></g>
<g id="n-blue-3" class="n b"><circle cx="204" cy="124" r="7"/></g>
<g id="n-reaction" class="n r"><circle cx="178" cy="125" r="7"/><text x="177" y="128.5" style="font-size:11.5px">reaction</text></g>
</g>
</svg>
